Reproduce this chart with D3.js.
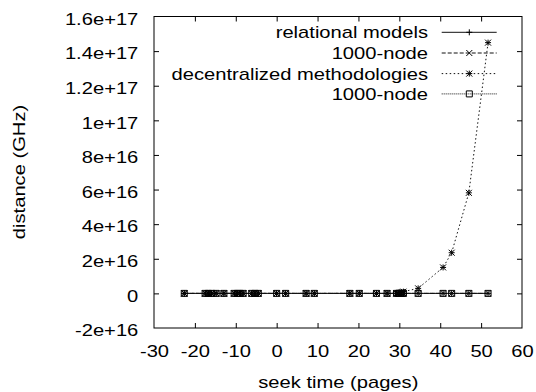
<!DOCTYPE html>
<html>
<head>
<meta charset="utf-8">
<script src="https://cdn.jsdelivr.net/npm/d3@7"></script>
<style>
  body { margin: 0; background: #fff; }
  svg text { font-family: "Liberation Sans", Arial, sans-serif; font-size: 16px; fill: #000; }
</style>
</head>
<body>
<svg id="chart" width="536" height="392"></svg>
<script>
// Data (y in units of 1e16)
const seekTimes = [-22.6, -17.5, -16.7, -15.9, -14.8, -12.9, -10.4, -9.6, -9.0, -8.2,
  -6.1, -5.3, -4.5, 0.0, 2.2, 7.2, 9.2, 17.9, 20.2, 24.4, 27.0,
  29.3, 29.8, 30.2, 30.6, 31.0, 34.6, 40.7, 42.8, 47.0, 51.7];
const relationalModels = seekTimes.map(() => 0);
const node1000a = seekTimes.map(() => 0);
const decentralized = [0, 0, 0, 0, 0, 0, 0, 0, 0, 0,
  0, 0, 0, 0, 0, 0, 0, 0, 0, 0, 0,
  0.01, 0.02, 0.04, 0.07, 0.1, 0.29, 1.50, 2.35, 5.81, 14.49];
const node1000b = seekTimes.map(() => 0);

const seriesNames = ["relational models", "1000-node", "decentralized methodologies", "1000-node"];
const seriesValues = [relationalModels, node1000a, decentralized, node1000b];
const seriesDash = [null, "4,2", "1.5,2.5", "1,1"];
const seriesMarker = ["plus", "cross", "star", "square"];

const xTicks = [-30, -20, -10, 0, 10, 20, 30, 40, 50, 60];
const yTicks = [-2, 0, 2, 4, 6, 8, 10, 12, 14, 16];
const yTickLabels = ["-2e+16", "0", "2e+16", "4e+16", "6e+16", "8e+16", "1e+17", "1.2e+17", "1.4e+17", "1.6e+17"];

const STRETCH = 1.26; // the original text is wider than Liberation Sans
const margin = { left: 154, right: 522, top: 16.5, bottom: 328 };

const svg = d3.select("#chart");
const x = d3.scaleLinear().domain([-30, 60]).range([margin.left, margin.right]);
const y = d3.scaleLinear().domain([-2, 16]).range([margin.bottom, margin.top]);

function stretchTexts(sel) {
  sel.selectAll("text").each(function() {
    const t = d3.select(this);
    const xv = +t.attr("x") || 0;
    t.attr("x", xv / STRETCH).attr("transform", `scale(${STRETCH},1)`);
  });
}

// axes with inward ticks on all four sides
const gLeft = svg.append("g").attr("transform", `translate(${margin.left},0)`)
  .call(d3.axisLeft(y).tickValues(yTicks).tickSize(-5).tickPadding(15.7)
    .tickFormat((d, i) => yTickLabels[i]));
gLeft.selectAll("text").attr("dy", "0.48em");
stretchTexts(gLeft);

const gRight = svg.append("g").attr("transform", `translate(${margin.right},0)`)
  .call(d3.axisRight(y).tickValues(yTicks).tickSize(-5).tickFormat(""));

const gBottom = svg.append("g").attr("transform", `translate(0,${margin.bottom})`)
  .call(d3.axisBottom(x).tickValues(xTicks).tickSize(-5).tickPadding(17.4).tickFormat(d => String(d)));
stretchTexts(gBottom);

const gTop = svg.append("g").attr("transform", `translate(0,${margin.top})`)
  .call(d3.axisTop(x).tickValues(xTicks).tickSize(-5).tickFormat(""));

[gLeft, gRight, gBottom, gTop].forEach(g => {
  g.select(".domain").remove();
  g.selectAll("line").attr("stroke", "#000");
});
// first/last ticks sit on the border; drop them like gnuplot
[gLeft, gRight].forEach(g => g.selectAll(".tick line").filter(d => d === -2 || d === 16).remove());
[gBottom, gTop].forEach(g => g.selectAll(".tick line").filter(d => d === -30 || d === 60).remove());

svg.append("rect")
  .attr("x", margin.left).attr("y", margin.top)
  .attr("width", margin.right - margin.left).attr("height", margin.bottom - margin.top)
  .attr("fill", "none").attr("stroke", "#000").attr("stroke-width", 1);

// axis titles
svg.append("text")
  .attr("transform", `translate(338.3,388) scale(${STRETCH},1)`)
  .attr("text-anchor", "middle")
  .text("seek time (pages)");

svg.append("text")
  .attr("transform", `translate(25,172) rotate(-90) scale(${STRETCH},1)`)
  .attr("text-anchor", "middle")
  .text("distance (GHz)");

// markers
function drawMarker(g, type, cx, cy) {
  const s = 3;
  const p = d3.path();
  if (type === "plus" || type === "star") {
    p.moveTo(cx - s, cy); p.lineTo(cx + s, cy);
    p.moveTo(cx, cy - s); p.lineTo(cx, cy + s);
  }
  if (type === "cross" || type === "star") {
    p.moveTo(cx - s, cy - s); p.lineTo(cx + s, cy + s);
    p.moveTo(cx - s, cy + s); p.lineTo(cx + s, cy - s);
  }
  if (type === "square") {
    p.rect(cx - s, cy - s, 2 * s, 2 * s);
  }
  g.append("path").attr("d", p.toString())
    .attr("fill", "none").attr("stroke", "#000").attr("stroke-width", 1);
}

const line = d3.line().x(d => x(d[0])).y(d => y(d[1]));
const plot = svg.append("g");

seriesValues.forEach((vals, si) => {
  const pts = seekTimes.map((t, i) => [t, vals[i]]);
  plot.append("path")
    .datum(pts)
    .attr("d", line)
    .attr("fill", "none")
    .attr("stroke", "#111")
    .attr("stroke-width", 1)
    .attr("stroke-dasharray", seriesDash[si]);
  const mg = plot.append("g");
  pts.forEach(p => drawMarker(mg, seriesMarker[si], x(p[0]), y(p[1])));
});

// legend
const legendRows = [32.3, 53, 73.6, 93.9];
const legend = svg.append("g");
seriesNames.forEach((name, i) => {
  const ry = legendRows[i];
  legend.append("text")
    .attr("transform", `translate(428,${ry + 6}) scale(${STRETCH},1)`)
    .attr("text-anchor", "end")
    .text(name);
  legend.append("line")
    .attr("x1", 441.7).attr("x2", 496.7)
    .attr("y1", ry).attr("y2", ry)
    .attr("stroke", "#111").attr("stroke-width", 1)
    .attr("stroke-dasharray", seriesDash[i]);
  drawMarker(legend, seriesMarker[i], 469.3, ry);
});
</script>
</body>
</html>
